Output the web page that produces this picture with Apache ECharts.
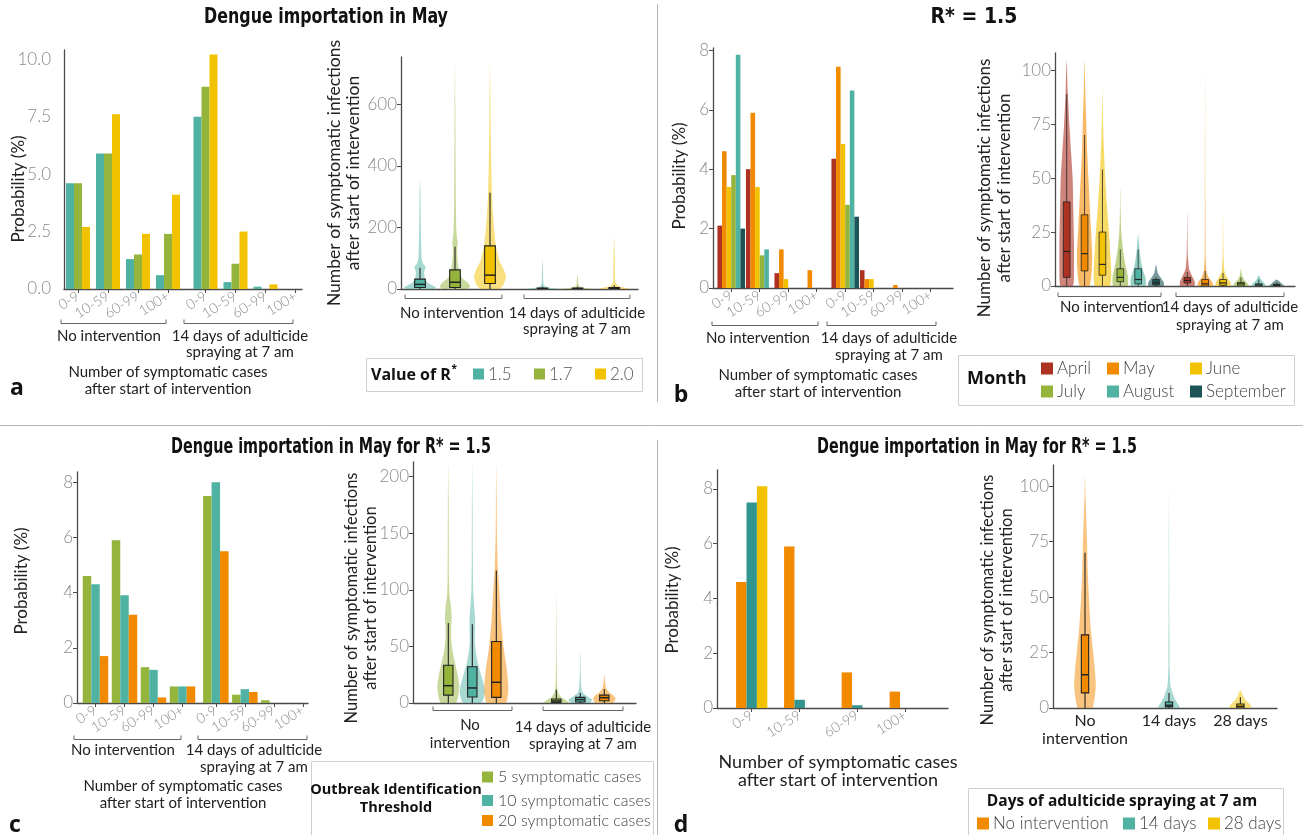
<!DOCTYPE html>
<html><head><meta charset="utf-8">
<script src="https://cdn.jsdelivr.net/npm/echarts@6/dist/echarts.min.js"></script>
<style>html,body{margin:0;padding:0;background:#fff}#c{width:1303px;height:835px}</style>
</head><body><div id="c"></div>
<script>
// ---------------- DATA ----------------
// Panel a: bars (probability %), R* = 1.5 / 1.7 / 2.0
const aCats = ['0-9','10-59','60-99','100+','0-9','10-59','60-99','100+'];
const aBarPos = [1,2,3,4,5.25,6.25,7.25,8.25];
const aBarR15 = [4.6,5.9,1.3,0.6,7.5,0.3,0.1,0];
const aBarR17 = [4.6,5.9,1.5,2.4,8.8,1.1,0,0];
const aBarR20 = [2.7,7.6,2.4,4.1,10.2,2.5,0.2,0];
const aBarYTicks = [0,2.5,5,7.5,10];
// Panel a: violins (number of infections)
const aVioPos = [1,2,3,4.5,5.5,6.55];
const aVioGroup = ['1.5','1.7','2.0','1.5','1.7','2.0'];
const aVioProfiles = [
  [[0,0.8],[5,1],[12,0.75],[22,0.45],[35,0.3],[50,0.25],[62,0.3],[72,0.35],[82,0.2],[100,0.1],[150,0.07],[200,0.05],[260,0.035],[300,0.03],[360,0]],
  [[0,0.8],[8,0.95],[20,0.8],[35,0.45],[50,0.3],[70,0.22],[100,0.15],[130,0.13],[150,0.17],[170,0.12],[200,0.08],[300,0.05],[400,0.04],[500,0.03],[600,0.025],[735,0]],
  [[0,0.55],[15,0.85],[40,1],[65,0.85],[90,0.6],[120,0.45],[150,0.35],[200,0.25],[250,0.18],[300,0.13],[400,0.08],[500,0.05],[600,0.03],[735,0]],
  [[0,1],[3,0.55],[8,0.18],[15,0.07],[30,0.04],[60,0.03],[100,0]],
  [[0,1],[3,0.5],[8,0.15],[15,0.06],[30,0.04],[48,0]],
  [[0,0.9],[4,0.7],[10,0.25],[20,0.08],[50,0.05],[100,0.04],[170,0]]
];
const aVioBoxes = [[0,5,15,32,69],[0,5,22,62,137],[0,18,45,140,313],[0,0,1,3,7],[0,0,1,3,7],[0,1,2,5,12]];
const aVioYTicks = [0,200,400,600];

// Panel b: bars by month of importation (R* = 1.5)
const bCats = aCats;
const bBarPos = [1,2,3,4,5,6,7,8];
const bApril = [2.1,4.0,0.5,0,4.35,0.6,0,0];
const bMay = [4.6,5.9,1.3,0.6,7.45,0.3,0.1,0];
const bJune = [3.4,3.4,0.3,0,4.85,0.3,0,0];
const bJuly = [3.8,1.1,0,0,2.8,0,0,0];
const bAugust = [7.85,1.3,0,0,6.65,0,0,0];
const bSeptember = [2.0,0,0,0,2.4,0,0,0];
const bBarYTicks = [0,2,4,6,8];
const bMonths = ['April','May','June','July','August','September'];
const bVioPos = [1,2,3,4,5,6,7.75,8.75,9.75,10.75,11.75,12.75];
const bVioMonth = [0,1,2,3,4,5,0,1,2,3,4,5];
const bVioProfiles = [
  [[0,0.7],[8,0.83],[20,0.83],[35,0.76],[50,0.68],[62,0.5],[75,0.3],[90,0.12],[105,0]],
  [[0,0.55],[8,0.83],[15,0.87],[25,0.75],[40,0.56],[50,0.44],[62,0.3],[75,0.2],[90,0.09],[105,0]],
  [[0,0.85],[6,1],[15,0.9],[25,0.75],[38,0.5],[50,0.32],[65,0.15],[78,0.06],[92,0]],
  [[0,0.8],[4,0.89],[10,0.57],[17,0.3],[25,0.11],[35,0.04],[46,0]],
  [[0,0.8],[3,0.87],[8,0.5],[12,0.3],[17,0.15],[24,0]],
  [[0,0.85],[1.5,0.9],[4,0.5],[6,0.2],[10,0]],
  [[0,0.8],[2,0.85],[5,0.5],[8,0.2],[15,0.06],[35,0]],
  [[0,0.85],[1.5,0.85],[4,0.4],[7,0.15],[15,0.05],[40,0.03],[99,0]],
  [[0,0.85],[1.5,0.85],[4,0.45],[7,0.15],[15,0.05],[33,0]],
  [[0,0.85],[1,0.8],[3,0.35],[5,0.12],[8,0]],
  [[0,0.8],[1,0.7],[3,0.25],[5,0]],
  [[0,0.85],[1,0.6],[3,0]]
];
const bVioBoxes = [[0,4,16,39,89],[0,7,15,33,70],[0,5,10,25,54],[0,2,4,8,17],[0,1,3,8,17],[0,0.5,1.5,3,4],
  [0,1.4,2.6,4,6.5],[0,0,1,3,7],[0,0.3,1.4,3,6],[0,0,1,1.7,4],[0,0,0.5,1,3],[0,0,0.3,0.8,1.5]];
const bVioYTicks = [0,25,50,75,100];

// Panel c: outbreak identification threshold
const cCats = aCats;
const cBarPos = [1,2,3,4,5.15,6.15,7.15,8.15];
const cBar5 = [4.6,5.9,1.3,0.6,7.5,0.3,0.1,0];
const cBar10 = [4.3,3.9,1.2,0.6,8.0,0.5,0,0];
const cBar20 = [1.7,3.2,0.2,0.6,5.5,0.4,0,0];
const cBarYTicks = [0,2,4,6,8];
const cVioPos = [1,2,3,5.5,6.5,7.5];
const cVioGroup = [0,1,2,0,1,2];
const cVioProfiles = [
  [[0,0.6],[8,0.82],[15,0.88],[25,0.75],[35,0.55],[45,0.35],[55,0.24],[65,0.22],[75,0.27],[85,0.22],[95,0.1],[110,0.05],[150,0.04],[180,0.03],[210,0]],
  [[0,0.7],[8,1],[15,0.95],[25,0.7],[35,0.45],[45,0.28],[55,0.2],[65,0.22],[75,0.22],[85,0.15],[100,0.07],[130,0.04],[170,0.03],[210,0]],
  [[0,0.75],[12,0.97],[30,0.84],[50,0.57],[75,0.37],[100,0.24],[120,0.12],[150,0.05],[180,0.03],[210,0]],
  [[0,1],[2,0.85],[5,0.4],[10,0.12],[20,0.05],[40,0.03],[100,0]],
  [[0,0.75],[3,0.95],[6,0.55],[10,0.15],[20,0.05],[47,0]],
  [[0,0.7],[4,0.9],[7,0.7],[10,0.35],[14,0.12],[25,0]]
];
const cVioBoxes = [[0,7,15.3,33.3,70.8],[0,5.3,13.3,32,69.6],[0,5,18.3,54.3,117],[0,0.3,1.8,3.5,11.8],[0,0.9,3,5,8.8],[0,2,4.7,7,12.4]];
const cVioYTicks = [0,50,100,150,200];
const cLegend = ['5 symptomatic cases','10 symptomatic cases','20 symptomatic cases'];

// Panel d: days of adulticide spraying
const dCats = ['0-9','10-59','60-99','100+'];
const dBarPos = [1,2,3.2,4.2];
const dNoInt = [4.6,5.9,1.3,0.6];
const d14 = [7.5,0.3,0.1,0];
const d28 = [8.1,0,0,0];
const dBarYTicks = [0,2,4,6,8];
const dVioCats = ['No\nintervention','14 days','28 days'];
const dVioPos = [1,2,2.85];
const dVioProfiles = [
  [[0,0.65],[5,0.9],[10,1],[18,0.9],[25,0.76],[35,0.55],[50,0.36],[62,0.25],[75,0.19],[85,0.12],[95,0.05],[105,0]],
  [[0,1],[2,0.8],[5,0.46],[10,0.14],[15,0.08],[20,0.05],[30,0.05],[40,0.03],[70,0.02],[100,0]],
  [[0,0.95],[1,1],[3,0.6],[5,0.3],[8,0]]
];
const dVioBoxes = [[0,6.8,15,33,70],[0,0.5,1.2,2.7,6.8],[0,0,0.75,1.8,4.8]];
const dVioYTicks = [0,25,50,75,100];
const dLegend = ['No intervention','14 days','28 days'];

// ---------------- STYLE ----------------
const FONT = 'Lato, "Noto Sans", sans-serif';
const TFONT = '"Liberation Sans Narrow", "DejaVu Sans Condensed", sans-serif';
const BFONT = '"Open Sans", "Noto Sans", sans-serif';
const AXC = '#4a4a4a';
const TLC = '#8a8a8a';
const COL = {teal:'#50b2a3', green:'#94b43c', yellow:'#f2c100', orange:'#f28a00', april:'#ad3222', sept:'#1d5457', dteal:'#31948f'};
const monthCols = [COL.april, COL.orange, COL.yellow, COL.green, COL.teal, COL.sept];
const rCols = {'1.5':COL.teal,'1.7':COL.green,'2.0':COL.yellow};
const cCols = [COL.green, COL.teal, COL.orange];
const dCols = [COL.orange, COL.teal, COL.yellow];

// ---------------- HELPERS ----------------
function barSeries(g, pos, vals, color, i, n, bw) {
  return {type:'custom', xAxisIndex:g, yAxisIndex:g, clip:false, z:3,
    data: pos.map((p,k)=>[p, vals[k]]), encode:{x:0, y:1},
    renderItem: function(params, api) {
      const xc = api.value(0) + (i - (n-1)/2) * bw;
      const p0 = api.coord([xc - bw/2, 0]);
      const p1 = api.coord([xc + bw/2, api.value(1)]);
      return {type:'rect', shape:{x:p0[0], y:p1[1], width:p1[0]-p0[0], height:p0[1]-p1[1]}, style:{fill:color}};
    }};
}
function violinSeries(g, pos, profiles, colors, halfW, alpha) {
  return {type:'custom', xAxisIndex:g, yAxisIndex:g, clip:true, z:2,
    data: pos.map((p,k)=>[p, profiles[k][profiles[k].length-1][0]]), encode:{x:0, y:1},
    renderItem: function(params, api) {
      const prof = profiles[params.dataIndex];
      const xc = api.value(0);
      const pts = [];
      for (let j=0;j<prof.length;j++) pts.push(api.coord([xc + prof[j][1]*halfW, prof[j][0]]));
      for (let j=prof.length-2;j>=0;j--) pts.push(api.coord([xc - prof[j][1]*halfW, prof[j][0]]));
      return {type:'polygon', shape:{points:pts, smooth:0.2}, style:{fill:colors[params.dataIndex], opacity:alpha}};
    }};
}
function boxSeries(g, pos, boxes, colors, bw, lw) {
  return {type:'custom', xAxisIndex:g, yAxisIndex:g, clip:true, z:4,
    data: pos.map((p,k)=>[p].concat(boxes[k])), encode:{x:0, y:[1,2,3,4,5]},
    renderItem: function(params, api) {
      const xc = api.value(0);
      const lo = api.coord([xc, api.value(1)]);
      const hi = api.coord([xc, api.value(5)]);
      const q1 = api.coord([xc - bw/2, api.value(2)]);
      const q3 = api.coord([xc + bw/2, api.value(4)]);
      const mL = api.coord([xc - bw/2, api.value(3)]);
      const mR = api.coord([xc + bw/2, api.value(3)]);
      return {type:'group', children:[
        {type:'line', shape:{x1:lo[0], y1:lo[1], x2:hi[0], y2:hi[1]}, style:{stroke:'#222', lineWidth:lw}},
        {type:'rect', shape:{x:q1[0], y:q3[1], width:q3[0]-q1[0], height:Math.max(q1[1]-q3[1],0.5)}, style:{fill:colors[params.dataIndex], stroke:'#222', lineWidth:lw}},
        {type:'line', shape:{x1:mL[0], y1:mL[1], x2:mR[0], y2:mR[1]}, style:{stroke:'#222', lineWidth:lw+0.4}}
      ]};
    }};
}
function yAx(g, max, ticks, fmt, showTick, margin) {
  return {type:'value', gridIndex:g, min:0, max:max,
    axisLine:{show:true, onZero:false, lineStyle:{color:AXC, width:1.3}},
    axisTick:{show:showTick, length:4, customValues:ticks, lineStyle:{color:AXC, width:1}},
    axisLabel:{customValues:ticks, formatter:fmt, color:TLC, fontSize:17, fontFamily:FONT, fontWeight:300, margin:margin},
    splitLine:{show:false}};
}
function xBarAx(g, min, max, pos, cats) {
  return {type:'value', gridIndex:g, min:min, max:max,
    axisLine:{show:true, onZero:false, lineStyle:{color:AXC, width:1.3}},
    axisTick:{show:true, length:4, customValues:pos, lineStyle:{color:AXC, width:1}},
    axisLabel:{customValues:pos, rotate:32, margin:6, fontSize:14, fontFamily:FONT, fontWeight:300, color:TLC,
      formatter:function(v){ const k = pos.findIndex(p=>Math.abs(p-v)<1e-6); return k>=0?cats[k]:''; }},
    splitLine:{show:false}};
}
function xVioAx(g, min, max) {
  return {type:'value', gridIndex:g, min:min, max:max,
    axisLine:{show:true, onZero:false, lineStyle:{color:AXC, width:1.3}},
    axisTick:{show:false}, axisLabel:{show:false}, splitLine:{show:false}};
}
function T(x, y, text, o) {
  o = o || {};
  return {type:'text', x:x, y:y, rotation:o.rot||0, scaleX:o.sx||1, z:10,
    style:{text:text, fontSize:o.size||15, fontFamily:o.font||FONT, fontWeight:o.weight||'normal',
      fill:o.color||'#222', align:o.align||'center', verticalAlign:'middle', lineHeight:o.lh||undefined}};
}
function L(pts, color, w) { return {type:'polyline', z:10, shape:{points:pts}, style:{stroke:color||'#555', lineWidth:w||1, fill:null}}; }
function bracket(x1, x2, y) { return L([[x1,y-4],[x1,y],[x2,y],[x2,y-4]], '#666', 1); }
function Rct(x, y, w, h, fill, stroke) { return {type:'rect', z:9, shape:{x:x, y:y, width:w, height:h}, style:{fill:fill, stroke:stroke||null, lineWidth:1}}; }

const measureCtx = document.createElement('canvas').getContext('2d');
function textW(t, font) { measureCtx.font = font; return measureCtx.measureText(t).width; }

// ---------------- OPTION ----------------
const grids = [
  {left:64, top:50, width:238, height:239},
  {left:401, top:57, width:237, height:232},
  {left:713, top:48, width:240, height:240},
  {left:1055, top:53, width:240, height:233},
  {left:77, top:472, width:231, height:231},
  {left:413, top:462, width:223, height:241},
  {left:717, top:470, width:231, height:238},
  {left:1053, top:465, width:224, height:243}
];

const xAxes = [
  xBarAx(0, 0.533, 8.467, aBarPos, aCats),
  xVioAx(1, 0.457, 7.229),
  xBarAx(2, 0.361, 8.782, bBarPos, bCats),
  xVioAx(3, 0.345, 13.776),
  xBarAx(4, 0.362, 8.328, cBarPos, cCats),
  xVioAx(5, -0.471, 8.82),
  xBarAx(6, 0.277, 5.09, dBarPos, dCats),
  {type:'value', gridIndex:7, min:0.619, max:3.286,
    axisLine:{show:true, onZero:false, lineStyle:{color:AXC, width:1.3}}, axisTick:{show:false},
    axisLabel:{customValues:dVioPos, margin:4, fontSize:16, lineHeight:18, fontFamily:FONT, color:'#222',
      formatter:function(v){ const k = dVioPos.findIndex(p=>Math.abs(p-v)<1e-6); return k>=0?dVioCats[k]:''; }},
    splitLine:{show:false}}
];
const yAxes = [
  yAx(0, 10.4, aBarYTicks, v=>v.toFixed(1), false, 13),
  yAx(1, 754, aVioYTicks, v=>String(v), true, 4),
  yAx(2, 8.08, bBarYTicks, v=>String(v), true, 4),
  yAx(3, 108, bVioYTicks, v=>String(v), true, 4),
  yAx(4, 8.37, cBarYTicks, v=>String(v), true, 4),
  yAx(5, 213, cVioYTicks, v=>String(v), true, 4),
  yAx(6, 8.69, dBarYTicks, v=>String(v), true, 4),
  yAx(7, 109.6, dVioYTicks, v=>String(v), true, 4)
];

const series = [];
// a
[aBarR15, aBarR17, aBarR20].forEach((vals,i)=>series.push(barSeries(0, aBarPos, vals, [COL.teal,COL.green,COL.yellow][i], i, 3, 0.267)));
series.push(violinSeries(1, aVioPos, aVioProfiles, aVioGroup.map(g=>rCols[g]), 0.457, 0.5));
series.push(boxSeries(1, aVioPos, aVioBoxes, aVioGroup.map(g=>rCols[g]), 0.305, 1.1));
// b
[bApril, bMay, bJune, bJuly, bAugust, bSeptember].forEach((vals,i)=>series.push(barSeries(2, bBarPos, vals, monthCols[i], i, 6, 0.161)));
series.push(violinSeries(3, bVioPos, bVioProfiles, bVioMonth.map(m=>monthCols[m]), 0.49, 0.6));
series.push(boxSeries(3, bVioPos, bVioBoxes, bVioMonth.map(m=>monthCols[m]), 0.375, 0.8));
// c
[cBar5, cBar10, cBar20].forEach((vals,i)=>series.push(barSeries(4, cBarPos, vals, cCols[i], i, 3, 0.293)));
series.push(violinSeries(5, cVioPos, cVioProfiles, cVioGroup.map(k=>cCols[k]), 0.52, 0.5));
series.push(boxSeries(5, cVioPos, cVioBoxes, cVioGroup.map(k=>cCols[k]), 0.39, 1.1));
// d
[dNoInt, d14, d28].forEach((vals,i)=>series.push(barSeries(6, dBarPos, vals, [COL.orange, COL.dteal, COL.yellow][i], i, 3, 0.217)));
series.push(violinSeries(7, dVioPos, dVioProfiles, dCols, 0.129, 0.5));
series.push(boxSeries(7, dVioPos, dVioBoxes, dCols, 0.087, 1.1));

// ---------------- GRAPHIC (titles, labels, legends) ----------------
const G = [];
// titles
G.push(T(326, 18, 'Dengue importation in May', {font:TFONT, weight:'bold', size:21, color:'#111', sx:0.84}));
G.push(T(974, 18, 'R* = 1.5', {font:TFONT, weight:'bold', size:21, color:'#111'}));
G.push(T(331, 448, 'Dengue importation in May for R* = 1.5', {font:TFONT, weight:'bold', size:21, color:'#111', sx:0.76}));
G.push(T(977, 448, 'Dengue importation in May for R* = 1.5', {font:TFONT, weight:'bold', size:21, color:'#111', sx:0.76}));
// dividers
G.push(L([[657.5,4],[657.5,402]], '#b5b5b5', 1));
G.push(L([[0,425.5],[1303,425.5]], '#b5b5b5', 1));
G.push(L([[657.5,440],[657.5,835]], '#b5b5b5', 1));
// panel letters
G.push(T(17, 388, 'a', {font:BFONT, weight:'bold', size:23, color:'#111'}));
G.push(T(681, 395, 'b', {font:BFONT, weight:'bold', size:23, color:'#111'}));
G.push(T(15, 825, 'c', {font:BFONT, weight:'bold', size:23, color:'#111'}));
G.push(T(681, 825, 'd', {font:BFONT, weight:'bold', size:23, color:'#111'}));
// y axis names
const ROT = Math.PI/2;
G.push(T(19, 189, 'Probability (%)', {rot:ROT, size:17}));
G.push(T(344, 173, 'Number of symptomatic infections\nafter start of intervention', {rot:ROT, size:17.5, lh:18.5}));
G.push(T(680, 176, 'Probability (%)', {rot:ROT, size:17}));
G.push(T(995, 188, 'Number of symptomatic infections\nafter start of intervention', {rot:ROT, size:17, lh:20}));
G.push(T(22, 581, 'Probability (%)', {rot:ROT, size:17}));
G.push(T(361, 598, 'Number of symptomatic infections\nafter start of intervention', {rot:ROT, size:16.5, lh:18.5}));
G.push(T(673, 600, 'Probability (%)', {rot:ROT, size:17}));
G.push(T(997, 600, 'Number of symptomatic infections\nafter start of intervention', {rot:ROT, size:16.5, lh:18.5}));
// panel a brackets & x titles
G.push(bracket(61, 166, 323.5)); G.push(bracket(184, 293, 323.5));
G.push(T(109, 336, 'No intervention'));
G.push(T(240, 336, '14 days of adulticide'));
G.push(T(240, 352, 'spraying at 7 am'));
G.push(T(168, 372, 'Number of symptomatic cases'));
G.push(T(168, 389, 'after start of intervention'));
G.push(bracket(405, 502, 298.5)); G.push(bracket(524, 630, 298.5));
G.push(T(452, 313, 'No intervention'));
G.push(T(577, 313, '14 days of adulticide'));
G.push(T(577, 329.5, 'spraying at 7 am'));
// panel b
G.push(bracket(712, 818, 325.5)); G.push(bracket(827, 936, 325.5));
G.push(T(758, 338.5, 'No intervention'));
G.push(T(889, 338.5, '14 days of adulticide'));
G.push(T(889, 355, 'spraying at 7 am'));
G.push(T(818, 375, 'Number of symptomatic cases'));
G.push(T(818, 392, 'after start of intervention'));
G.push(bracket(1058, 1161, 296.5)); G.push(bracket(1176, 1284, 296.5));
G.push(T(1112, 307.5, 'No intervention'));
G.push(T(1230, 307.5, '14 days of adulticide'));
G.push(T(1230, 325, 'spraying at 7 am'));
// panel c
G.push(bracket(74, 181, 739.5)); G.push(bracket(198, 307, 739.5));
G.push(T(123, 750, 'No intervention'));
G.push(T(254, 750, '14 days of adulticide'));
G.push(T(254, 767, 'spraying at 7 am'));
G.push(T(183, 786, 'Number of symptomatic cases'));
G.push(T(183, 803, 'after start of intervention'));
G.push(bracket(433, 512, 710.5)); G.push(bracket(543, 623, 710.5));
G.push(T(470, 725, 'No'));
G.push(T(470, 743, 'intervention'));
G.push(T(583, 727, '14 days of adulticide'));
G.push(T(583, 744.5, 'spraying at 7 am'));
// panel d
G.push(T(838, 762, 'Number of symptomatic cases', {size:18}));
G.push(T(838, 780, 'after start of intervention', {size:18}));

// legend a
G.push(Rct(366.5, 358.5, 276, 33, '#fff', '#cfcfcf'));
const legBold = 'bold 16px ' + BFONT;
G.push(T(371, 375, 'Value of R', {font:BFONT, weight:'bold', size:16, align:'left', color:'#111'}));
G.push(T(371 + textW('Value of R', legBold) + 0.5, 369, '*', {font:BFONT, weight:'bold', size:10, align:'left', color:'#111'}));
['1.5','1.7','2.0'].forEach((k,i)=>{
  const x0 = [473,534,595][i];
  G.push(Rct(x0, 368.5, 11, 11, rCols[k]));
  G.push(T(x0+15, 375, k, {size:17, align:'left', color:'#555', weight:300}));
});
// legend b
G.push(Rct(958.5, 355.5, 336, 50, '#fff', '#cfcfcf'));
G.push(T(967, 379, 'Month', {font:BFONT, weight:'bold', size:18, align:'left', color:'#111'}));
bMonths.forEach((m,i)=>{
  const x0 = [1041,1107,1190][i%3];
  const yc = i < 3 ? 368.5 : 391.5;
  G.push(Rct(x0, yc-6, 12, 12, monthCols[i]));
  G.push(T(x0+16, yc, m, {size:17, align:'left', color:'#444', weight:300}));
});
// legend c
G.push(Rct(311.5, 761.5, 342, 80, '#fff', '#cfcfcf'));
G.push(T(396, 790, 'Outbreak Identification', {font:BFONT, weight:'bold', size:14.5, color:'#111'}));
G.push(T(396, 808, 'Threshold', {font:BFONT, weight:'bold', size:14.5, color:'#111'}));
cLegend.forEach((t,i)=>{
  const yc = [777,800.5,820.5][i];
  G.push(Rct(482, yc-5.5, 11, 11, cCols[i]));
  G.push(T(498, yc, t, {size:16, align:'left', color:'#444', weight:300}));
});
// legend d
G.push(Rct(968.5, 788.5, 315, 52, '#fff', '#cfcfcf'));
G.push(T(1122, 802, 'Days of adulticide spraying at 7 am', {font:BFONT, weight:'bold', size:15.5, color:'#111'}));
dLegend.forEach((t,i)=>{
  const x0 = [977,1123,1208][i];
  G.push(Rct(x0, 817.5, 12, 12, dCols[i]));
  G.push(T(x0+16, 823.5, t, {size:17, align:'left', color:'#444', weight:300}));
});

const chart = echarts.init(document.getElementById('c'), null, {renderer:'canvas', width:1303, height:835});
chart.setOption({
  animation:false,
  backgroundColor:'#fff',
  grid: grids,
  xAxis: xAxes,
  yAxis: yAxes,
  series: series,
  graphic: {elements: G}
});
</script></body></html>
